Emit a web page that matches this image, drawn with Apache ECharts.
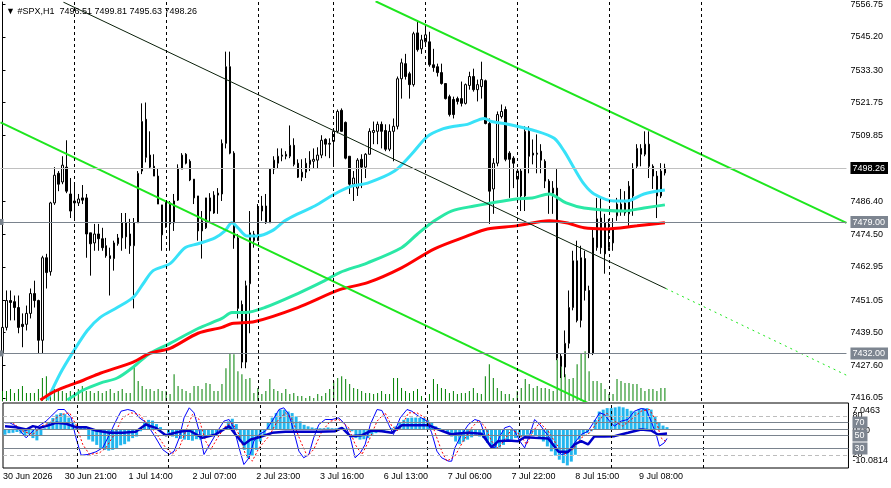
<!DOCTYPE html>
<html>
<head>
<meta charset="utf-8">
<title>#SPX,H1</title>
<script src="https://cdn.jsdelivr.net/npm/echarts@6/dist/echarts.min.js"></script>
<style>
  html, body { margin: 0; padding: 0; background: #fff; }
  #chart { width: 891px; height: 488px; }
</style>
</head>
<body>
<div id="chart"></div>
<script>
// H1 candles: [open, close, low, high]
const candles = [
  [7432.1,7441.3,7430.3,7442.0],[7441.3,7450.9,7440.2,7454.5],[7450.9,7450.2,7443.8,7454.5],[7450.5,7448.4,7443.8,7452.7],
  [7448.4,7441.3,7439.2,7452.7],[7442.4,7441.6,7434.2,7446.3],[7442.4,7446.3,7440.2,7449.1],[7446.3,7453.4,7444.5,7455.2],
  [7453.4,7450.9,7448.4,7458.0],[7450.9,7436.7,7432.1,7451.2],[7436.7,7466.2,7432.1,7466.9],[7466.2,7460.9,7455.2,7467.6],
  [7461.2,7485.8,7459.8,7486.2],[7485.8,7495.7,7485.1,7498.6],[7496.4,7492.5,7490.0,7497.2],[7493.3,7499.3,7492.5,7502.5],
  [7498.6,7490.0,7489.3,7508.2],[7489.0,7482.9,7480.4,7494.7],[7485.8,7486.5,7480.4,7492.5],[7485.8,7487.2,7484.7,7489.0],
  [7487.6,7486.8,7485.4,7492.2],[7487.6,7474.7,7466.2,7489.0],[7475.1,7471.2,7459.8,7475.1],[7471.5,7474.7,7468.7,7478.3],
  [7474.7,7473.0,7468.7,7478.3],[7473.0,7469.8,7468.7,7476.9],[7470.5,7466.9,7466.2,7473.3],[7466.9,7465.9,7452.7,7469.8],
  [7465.9,7471.5,7461.6,7472.3],[7471.2,7473.3,7470.5,7474.7],[7473.3,7478.7,7468.7,7482.2],[7478.7,7473.7,7469.4,7482.2],
  [7474.7,7470.5,7467.6,7480.1],[7470.5,7478.7,7448.1,7480.4],[7478.7,7496.4,7478.7,7497.2],[7497.2,7514.9,7496.1,7521.4],
  [7515.7,7502.1,7500.3,7521.7],[7502.9,7498.6,7498.2,7511.4],[7498.9,7495.4,7495.4,7503.2],[7495.4,7485.4,7485.4,7498.2],
  [7485.1,7474.4,7468.7,7485.1],[7477.2,7485.8,7476.9,7486.5],[7478.3,7485.8,7468.7,7486.5],[7486.5,7478.7,7475.8,7489.0],
  [7486.8,7498.2,7486.5,7499.6],[7497.9,7502.9,7497.9,7503.6],[7503.2,7500.0,7499.6,7503.6],[7500.7,7494.0,7493.6,7501.4],
  [7494.3,7487.6,7485.4,7494.3],[7488.3,7475.8,7472.3,7488.3],[7479.4,7475.8,7465.9,7482.9],[7476.9,7487.6,7476.5,7487.6],
  [7482.9,7487.6,7478.7,7489.3],[7482.2,7488.6,7481.9,7490.0],[7489.3,7488.6,7481.9,7491.1],[7489.0,7507.1,7486.5,7508.5],
  [7507.1,7534.5,7505.3,7539.9],[7534.5,7503.6,7503.2,7539.9],[7503.6,7473.3,7469.4,7504.3],[7473.3,7448.1,7444.5,7474.7],
  [7449.5,7428.9,7426.7,7450.9],[7428.9,7456.2,7426.7,7458.0],[7456.9,7475.1,7439.2,7482.9],[7472.3,7474.7,7469.8,7475.8],
  [7472.3,7483.6,7472.3,7485.4],[7482.9,7484.7,7479.4,7488.3],[7484.7,7478.7,7478.3,7489.0],[7478.7,7497.9,7478.7,7498.2],
  [7497.9,7501.1,7496.1,7502.5],[7500.0,7502.5,7498.2,7505.3],[7502.5,7502.9,7500.7,7505.3],[7502.5,7503.2,7501.4,7504.3],
  [7502.5,7506.4,7501.8,7513.5],[7506.4,7499.6,7498.9,7508.9],[7500.0,7495.0,7494.7,7501.4],[7495.0,7496.8,7493.6,7501.4],
  [7496.8,7500.0,7494.7,7501.8],[7499.6,7501.1,7497.2,7504.3],[7500.7,7501.4,7498.2,7505.3],[7501.1,7502.9,7498.2,7505.7],
  [7502.9,7508.2,7501.8,7510.0],[7508.5,7506.8,7502.5,7508.9],[7506.8,7507.1,7501.8,7508.9],[7507.8,7511.4,7499.6,7512.5],
  [7511.4,7518.5,7510.7,7519.2],[7518.9,7511.4,7511.4,7519.6],[7514.6,7501.8,7501.4,7514.9],[7502.5,7492.5,7489.0,7502.5],
  [7492.5,7494.7,7486.5,7497.2],[7491.1,7501.1,7488.3,7501.8],[7501.4,7498.6,7491.1,7503.2],[7498.6,7503.2,7494.7,7503.6],
  [7503.2,7511.4,7503.2,7512.5],[7511.0,7511.7,7506.8,7514.9],[7511.4,7513.9,7506.8,7514.9],[7513.9,7511.4,7505.3,7514.9],
  [7511.7,7505.0,7504.3,7513.9],[7505.0,7511.4,7504.3,7513.9],[7511.4,7513.2,7500.7,7516.0],[7513.2,7530.2,7512.1,7531.0],
  [7530.2,7535.9,7523.1,7537.4],[7535.6,7531.0,7529.9,7539.1],[7532.0,7528.1,7523.1,7532.7],[7528.1,7546.3,7527.4,7547.0],
  [7546.6,7540.6,7539.9,7551.2],[7540.9,7544.1,7539.1,7545.9],[7543.4,7545.9,7542.3,7549.5],[7543.4,7535.2,7534.5,7547.0],
  [7535.2,7534.2,7532.7,7540.9],[7534.5,7532.4,7531.0,7535.6],[7532.4,7528.5,7528.1,7535.6],[7528.5,7523.1,7522.8,7528.5],
  [7523.8,7517.4,7516.7,7524.5],[7522.8,7517.4,7516.0,7523.8],[7523.1,7522.1,7521.0,7523.8],[7523.1,7521.4,7520.3,7529.2],
  [7521.4,7528.1,7521.0,7528.5],[7527.8,7531.0,7526.3,7532.7],[7531.0,7526.3,7525.6,7533.8],[7526.3,7528.1,7522.1,7529.9],
  [7527.4,7529.9,7523.1,7536.3],[7529.5,7514.2,7513.9,7529.9],[7514.2,7490.0,7478.3,7516.0],[7490.8,7500.0,7481.9,7501.8],
  [7500.0,7517.4,7498.9,7518.5],[7516.7,7518.5,7516.0,7521.0],[7519.2,7501.4,7500.7,7520.3],[7503.6,7501.4,7487.6,7504.3],
  [7501.8,7500.0,7491.1,7502.5],[7494.3,7497.2,7488.3,7498.2],[7497.2,7488.3,7482.9,7498.2],[7488.3,7511.4,7482.9,7513.2],
  [7511.4,7502.5,7496.4,7513.2],[7503.6,7502.9,7499.6,7508.5],[7503.2,7503.6,7496.4,7510.3],[7504.3,7501.1,7496.4,7506.8],
  [7500.7,7493.6,7491.1,7501.4],[7493.6,7489.0,7481.9,7494.3],[7489.3,7491.1,7481.9,7493.6],[7491.1,7430.3,7429.6,7497.9],
  [7431.0,7427.4,7423.2,7432.1],[7427.1,7435.6,7423.5,7440.2],[7435.6,7448.4,7433.8,7454.5],[7448.4,7465.1,7447.4,7468.7],
  [7465.1,7443.8,7443.1,7472.3],[7443.8,7466.2,7441.3,7470.5],[7465.9,7454.5,7450.9,7468.7],[7454.5,7432.1,7430.3,7456.2],
  [7432.1,7473.3,7431.4,7476.5],[7469.8,7480.1,7468.7,7487.6],[7480.4,7469.8,7467.6,7487.6],[7478.7,7467.6,7460.5,7481.9],
  [7469.8,7471.5,7468.7,7480.1],[7471.5,7476.9,7468.7,7480.4],[7481.2,7485.4,7479.4,7487.6],[7482.9,7485.4,7481.2,7490.8],
  [7485.8,7482.2,7481.2,7490.0],[7481.9,7491.8,7477.6,7493.6],[7488.3,7498.2,7481.2,7500.0],[7498.9,7505.3,7498.2,7506.8],
  [7503.2,7505.3,7498.9,7506.8],[7503.2,7506.8,7502.5,7511.4],[7506.8,7498.9,7494.7,7511.4],[7498.9,7495.4,7490.8,7499.6],
  [7495.4,7488.3,7480.4,7497.2],[7488.3,7497.2,7487.6,7500.0],[7496.51,7498.26,7495.63,7499.81]
];

// tick volume (scaled to the main window)
const volumes = [
  10,10,12,8,12,15,8,8,8,12, 23,25,10,12,12,10,8,10,7,12, 15,10,10,8,10,8,10,12,8,10,
  12,8,8,35,20,15,12,12,10,12, 10,10,7,27,15,12,10,8,15,15, 12,18,17,10,10,17,33,48,47,30,
  27,22,23,8,13,7,10,22,12,10, 8,12,7,8,5,5,3,5,3,7, 5,8,12,20,23,25,22,17,13,12,
  10,8,8,7,8,10,7,7,23,23, 13,10,8,10,12,5,3,7,22,17, 13,12,8,10,7,8,8,10,13,8,
  7,25,37,23,13,10,7,7,3,10, 13,22,17,13,15,13,13,12,10,42, 40,27,22,23,37,48,50,30,20,20,
  18,12,7,7,22,20,18,18,17,17, 13,10,12,12,10,13,13
];

// OsMA(12,26,9) histogram
const osma = [
  -1.3,-0.9,-0.8,-0.6,-1.0,-1.6,-1.2,-2.2,-2.8,-1.4, 0.4,1.8,3.1,4.0,4.4,4.1,3.2,1.8,1.1,0.9,
  0.6,-2.6,-3.1,-4.0,-4.8,-5.3,-5.5,-5.3,-4.8,-4.1, -3.8,-3.1,-2.2,-1.8,-0.4,1.8,2.6,2.4,1.5,0.7,
  0.2,-0.9,-1.8,-2.2,-2.4,-2.6,-2.7,-2.9,-2.5,-2.6, -2.2,-1.8,-1.3,-0.9,-0.4,0.3,2.2,2.9,1.5,-3.1,
  -5.3,-7.5,-6.8,-5.3,-3.1,-1.3,1.8,3.2,4.4,5.3, 5.3,4.8,4.4,3.5,2.2,1.3,0.9,0.6,0.4,0.4,
  0.4,0.6,0.4,0.4,0.6,0.4,0.3,-0.4,-2.2,-2.6, -2.5,-2.2,-1.3,-0.9,-0.4,-0.4,-0.1,0.4,0.9,1.8,
  2.6,3.1,3.2,3.2,3.1,3.1,2.6,1.8,0.9,0.4, 0.1,-0.9,-1.8,-3.1,-3.8,-3.1,-2.6,-2.0,-1.3,-1.8,
  -2.2,-3.5,-4.4,-4.8,-4.7,-4.0,-3.1,-2.6,-2.2,-2.0, -1.8,-1.3,-1.1,-1.5,-2.2,-3.1,-4.4,-5.7,-6.8,-7.9,
  -8.8,-9.4,-8.4,-6.6,-2.6,-1.3,-0.9,-0.4,2.6,4.8, 5.3,5.7,5.7,5.9,6.1,5.9,5.5,5.0,4.8,5.5,
  5.7,5.7,5.3,3.5,2.0,1.1,0.68
];

// moving averages as [bar, price]
const maCyan = [
  [11.25,7415.3],[14.5,7424.9],[17.5,7432.1],[21.25,7440.2],[24.5,7444.9],[28.75,7448.4],[32.75,7452.0],
  [35.25,7456.9],[37.75,7461.6],[42,7464.1],[45.75,7469.8],[49,7471.2],[53.25,7473.3],[55.75,7475.8],
  [57.5,7478.7],[59,7476.9],[61.25,7474.0],[63.75,7474.0],[67.5,7475.8],[70.75,7479.4],[74,7481.9],
  [78.25,7484.7],[83.25,7489.0],[87.5,7491.8],[91.5,7492.9],[98.25,7497.2],[102.5,7503.2],[106.5,7509.6],
  [110,7512.1],[113.25,7513.2],[116.5,7513.9],[120.75,7516.0],[122.5,7514.9],[125.75,7514.2],[134,7511.4],
  [138.25,7508.9],[140.75,7504.3],[143.25,7498.2],[145.75,7492.5],[148.25,7489.0],[153.25,7486.5],
  [156.5,7486.5],[160.75,7489.0],[166,7490.4]
];
const maGreen = [
  [16.25,7415.3],[20.25,7418.9],[24.5,7421.4],[28.75,7423.2],[32.75,7427.1],[37,7432.1],[42,7435.6],
  [49,7440.9],[55,7444.5],[57.5,7446.6],[60.75,7446.6],[65.75,7448.4],[74,7453.4],[80.75,7458.0],
  [84.5,7460.9],[91.5,7464.4],[100,7469.8],[104,7474.7],[108.25,7479.4],[112.5,7482.9],[118.25,7484.7],
  [122.5,7485.8],[128.75,7487.2],[132.75,7487.6],[137,7489.0],[141.25,7485.8],[145.75,7484.0],
  [155.75,7482.9],[160.75,7484.0],[166,7485.1]
];
const maRed = [
  [9.5,7415.3],[12.75,7418.2],[16.25,7420.3],[20.25,7422.4],[24.5,7424.9],[32.75,7428.9],[37,7432.1],
  [42,7433.8],[49,7439.2],[55,7441.3],[57.5,7442.7],[63.25,7443.4],[74,7448.4],[84.5,7454.8],
  [91.5,7457.3],[100,7462.6],[108.25,7469.4],[116.5,7474.0],[121.5,7476.5],[128.75,7477.6],
  [137,7479.4],[141.25,7478.7],[145.75,7476.9],[150.75,7476.5],[159,7477.6],[166,7478.7]
];

// trend lines as [bar, price]
const trendUpper = [[93.5,7557.9],[211.5,7478.7]];
const trendLower = [[-0.5,7514.6],[150,7412.0]];
const trendMid = [[15.25,7557.6],[166.25,7455.2]];
const trendMidExt = [[166.25,7455.2],[211.5,7424.2]];

// Stochastic(5,3,3) main / signal and RSI(14) as [bar, value]
const stochMain = [
  [0,69.5],[1.2,69.5],[2.8,64.4],[5.3,46.4],[7.8,61.8],[10.3,72.1],[13.3,90.0],[14.9,90.0],[16.6,77.2],
  [17.8,46.4],[19.1,19.7],[20.8,20.8],[22.8,24.9],[24.5,31.0],[26.2,51.5],[27.8,72.1],[29.1,87.4],
  [30.8,90.0],[32.4,87.4],[33.7,77.2],[34.9,72.1],[36.2,61.8],[37.8,46.4],[39.5,28.5],[41.2,20.8],
  [42.4,25.9],[43.7,46.4],[44.9,77.2],[46.2,92.6],[47.4,84.9],[48.7,56.7],[49.9,20.8],[51.6,38.7],
  [53.3,56.7],[54.9,72.1],[56.2,74.6],[57.4,61.8],[58.7,31.0],[59.9,5.4],[61.2,15.7],[62.4,41.3],
  [63.7,51.5],[65.3,56.7],[67,72.1],[68.7,90.0],[69.9,92.6],[71.2,82.3],[72.4,56.7],[73.7,25.9],
  [74.9,15.7],[76.2,20.8],[77.4,46.4],[78.7,66.9],[80.3,74.6],[82,74.6],[83.7,77.2],[85.3,66.9],
  [86.6,46.4],[87.8,15.7],[89.1,23.3],[90.3,36.2],[91.6,66.9],[93.3,90.0],[94.5,88.5],[96.2,66.9],
  [97.4,51.5],[99.1,77.2],[100.8,90.0],[102,87.4],[103.7,79.7],[105.8,72.1],[107,54.1],[108.3,25.9],
  [109.5,15.7],[111.2,10.5],[112,10.5],[112.8,31.0],[114.5,51.5],[116.2,66.9],[117.8,74.6],[119.1,72.1],
  [120.3,51.5],[121.6,33.6],[122.8,31.0],[124.1,49.0],[125.3,61.8],[126.6,64.4],[127.8,56.7],[129.1,41.3],
  [130.3,31.0],[131.6,51.5],[132.8,74.6],[134.1,66.9],[135.3,56.7],[136.6,46.4],[138.3,28.5],[139.5,20.8],
  [141.2,23.3],[142.8,38.7],[144.5,51.5],[146.2,56.7],[147.8,72.1],[149.1,84.9],[150.3,82.3],[151.6,72.1],
  [152.8,64.4],[154.5,72.1],[156.2,74.6],[157.8,87.4],[159.5,91.5],[160.8,90.0],[162,72.1],[163.3,51.5],
  [164.1,33.6],[165.3,38.7],[166,45.4]
];
const stochSignal = [
  [2,69.5],[4.5,56.7],[7,51.5],[9.1,64.4],[11.2,69.5],[14.1,82.3],[16.2,84.9],[17.8,66.9],[19.5,36.2],
  [21.2,20.8],[23.7,23.3],[25.3,31.0],[27.4,51.5],[29.5,77.2],[31.6,84.9],[33.7,82.3],[35.8,66.9],
  [37.8,54.1],[40.3,31.0],[42,21.8],[43.7,31.0],[45.3,56.7],[47,82.3],[48.7,74.6],[50.3,41.3],[51.6,28.5],
  [53.3,46.4],[55.3,64.4],[57,69.5],[58.7,51.5],[60.3,20.8],[62,10.5],[63.7,31.0],[66.2,49.0],[68.3,72.1],
  [70.3,84.9],[72,74.6],[74.1,41.3],[75.8,18.2],[77.4,28.5],[79.5,56.7],[81.6,72.1],[83.7,74.6],[86.2,61.8],
  [87.8,36.2],[89.5,20.8],[91.2,41.3],[93.3,72.1],[95.3,84.9],[97,64.4],[98.7,56.7],[101.2,84.9],
  [103.3,84.9],[105.3,77.2],[107.4,61.8],[109.5,25.9],[110.8,10.5],[112.8,18.2],[114.9,41.3],[117,61.8],
  [118.7,73.1],[120.3,64.4],[122,41.3],[123.7,30.0],[125.3,43.9],[127,59.2],[129.1,51.5],[130.8,36.2],
  [132.4,56.7],[134.1,69.5],[136.2,56.7],[138.3,36.2],[140.3,21.8],[142.4,28.5],[144.5,46.4],[146.6,54.1],
  [148.7,72.1],[150.8,84.9],[152.8,72.1],[154.9,64.4],[157,74.6],[159.5,87.4],[161.6,90.0],[163.3,72.1],
  [164.5,46.4],[166,39.1]
];
const rsi = [
  [0,64.4],[2.8,62.8],[5.3,59.2],[7,64.4],[8.7,61.8],[10.3,64.4],[12.8,69.5],[15.3,68.0],[17.8,62.8],
  [20.3,62.8],[22.8,57.7],[26.2,54.1],[29.5,54.1],[32.8,55.7],[35.3,66.9],[37.8,61.8],[40.3,50.5],
  [43.7,55.7],[46.2,57.7],[49.5,46.4],[52.8,51.5],[56.2,64.4],[57.8,51.5],[59.9,36.2],[61.6,43.9],
  [63.7,47.4],[67,54.1],[70.3,55.7],[74.5,55.7],[78.7,55.7],[82.8,56.7],[84.5,61.8],[86.6,49.0],
  [89.5,50.5],[92,57.7],[94.5,56.7],[97,54.1],[99.5,65.9],[102.8,65.9],[106.2,65.9],[108.7,59.2],
  [112,51.5],[112.8,52.6],[116.2,54.1],[119.5,52.6],[122,32.1],[123.7,41.3],[126.2,42.3],[128.7,41.3],
  [130.3,47.4],[132.8,46.4],[136.2,45.4],[138.8,24.9],[141.2,24.9],[142.8,36.2],[144.5,41.3],[146.2,36.2],
  [147.8,49.0],[150.3,48.5],[152.8,49.0],[156.2,54.1],[159.5,59.2],[162,57.7],[163.7,51.5],[166,53.2]
];

// axis texts
const priceTicks = [7556.75,7545.20,7533.30,7521.75,7509.85,7486.40,7474.50,7462.95,7451.05,7439.50,7427.60,7416.05];
const lastPrice = 7498.26;
const levelPrices = [7479.00, 7432.00];
const timeIdx = [-0.5,15,31,47,63,79,95,111,127,143,159];
const timeLabels = ['30 Jun 2026','30 Jun 21:00','1 Jul 14:00','2 Jul 07:00','2 Jul 23:00','3 Jul 16:00',
  '6 Jul 13:00','7 Jul 06:00','7 Jul 22:00','8 Jul 15:00','9 Jul 08:00'];
const dayIdx = [18,41,64,83,106,129,152,175];
// sub-window scale texts, listed in drawing order (boxed levels last)
const oscPos = [80,20,57.7,88.5,11.5,70,50,30];
const oscText = ['80','20','0.00','7.0463','-10.0814','70','50','30'];
const oscBoxed = ['70','50','30'];

const FONT = '"Liberation Sans", Arial, sans-serif';
const N = 212;           // slots on the time axis incl. chart shift
const PMAX = 7557.64, PMIN = 7414.98;
const OMAX = 7.0463, OMIN = -10.0814;
const cats = Array.from({length: N}, (_, i) => String(i));

let myChart = echarts.init(document.getElementById('chart'));

const hiddenLine = { symbol: 'none', silent: true, animation: false, label: {show: false} };
const dashV = { type: [3, 3], color: '#000', width: 1 };
const gridLines = dayIdx.map(i => ({ xAxis: String(i), lineStyle: dashV }));
const lvlStyle = { color: '#7a838d', width: 1, type: 'solid' };

let option = {
  animation: false,
  backgroundColor: '#fff',
  title: {
    text: '▼ #SPX,H1  7496.51 7499.81 7495.63 7498.26',
    left: 1, top: 2,
    textStyle: { fontSize: 9, fontWeight: 'normal', color: '#000', fontFamily: FONT }
  },
  grid: [
    { left: 0.5, top: 0, width: 848, height: 401 },
    { left: 0.5, top: 403, width: 848, height: 65, show: true, borderColor: '#000', borderWidth: 1 }
  ],
  xAxis: [
    { type: 'category', gridIndex: 0, data: cats, show: false, position: 'bottom' },
    { type: 'value', gridIndex: 0, min: -0.5, max: N - 0.5, show: false, position: 'bottom' },
    { type: 'category', gridIndex: 1, data: cats, show: false, position: 'top' },
    {
      type: 'value', gridIndex: 1, min: -0.5, max: N - 0.5, position: 'bottom',
      splitLine: { show: false }, axisLine: { show: false }, axisTick: { show: false },
      axisLabel: {
        customValues: timeIdx, hideOverlap: false,
        formatter: v => timeLabels[timeIdx.findIndex(t => Math.abs(t - v) < 0.01)],
        align: 'left', margin: 4, fontSize: 9, color: '#000', fontFamily: FONT
      }
    }
  ],
  yAxis: [
    {
      type: 'value', gridIndex: 0, position: 'right', min: PMIN, max: PMAX,
      splitLine: { show: false },
      axisLine: { show: true, lineStyle: { color: '#000' } },
      axisTick: { show: true, length: 3, customValues: priceTicks, lineStyle: { color: '#000' } },
      axisLabel: {
        customValues: priceTicks.concat([lastPrice], levelPrices), hideOverlap: false,
        margin: 4, fontSize: 9, color: '#000', fontFamily: FONT,
        formatter: function (v) {
          if (Math.abs(v - lastPrice) < 0.001) return '{cur|' + v.toFixed(2) + '}';
          if (levelPrices.some(p => Math.abs(v - p) < 0.001)) return '{lvl|' + v.toFixed(2) + '}';
          return v.toFixed(2);
        },
        rich: {
          cur: { backgroundColor: '#000', color: '#fff', padding: [2, 3, 1, 2], fontSize: 9, fontFamily: FONT },
          lvl: { backgroundColor: '#7d8590', color: '#fff', padding: [2, 3, 1, 2], fontSize: 9, fontFamily: FONT }
        }
      }
    },
    { type: 'value', gridIndex: 0, min: 0, max: 401, show: false },
    {
      type: 'value', gridIndex: 1, position: 'right', min: 0, max: 100,
      splitLine: { show: false }, axisLine: { show: false }, axisTick: { show: false },
      axisLabel: {
        customValues: oscPos, hideOverlap: false,
        margin: 4, fontSize: 9, color: '#000', fontFamily: FONT,
        formatter: function (v) {
          const t = oscText[oscPos.findIndex(p => Math.abs(p - v) < 0.01)];
          return oscBoxed.includes(t) ? '{box|' + t + '}' : t;
        },
        rich: { box: { backgroundColor: '#7d8590', color: '#fff', padding: [2, 3, 1, 2], fontSize: 9, fontFamily: FONT } }
      }
    },
    { type: 'value', gridIndex: 1, min: OMIN, max: OMAX, show: false, position: 'left' }
  ],
  series: [
    {
      name: 'Volume', type: 'bar', xAxisIndex: 0, yAxisIndex: 1, data: volumes,
      barWidth: 1, itemStyle: { color: '#008000' }, z: 1, silent: true,
      markLine: Object.assign({ data: gridLines }, hiddenLine)
    },
    {
      name: '#SPX,H1', type: 'candlestick', xAxisIndex: 0, yAxisIndex: 0, data: candles,
      barWidth: 2, z: 2, silent: true,
      itemStyle: { color: '#fff', color0: '#000', borderColor: '#000', borderColor0: '#000', borderWidth: 1 },
      markLine: Object.assign({
        data: [
          { yAxis: lastPrice, lineStyle: { color: '#c0c0c0', width: 1, type: 'solid' } },
          { yAxis: levelPrices[0], lineStyle: lvlStyle, symbol: ['emptyRect', 'none'], symbolSize: 6 },
          { yAxis: levelPrices[1], lineStyle: lvlStyle, symbol: ['none', 'emptyRect'], symbolSize: 6 }
        ]
      }, hiddenLine, { symbol: 'none' })
    },
    { name: 'MA fast', type: 'line', xAxisIndex: 1, yAxisIndex: 0, data: maCyan, showSymbol: false, smooth: 0.3,
      lineStyle: { color: '#38e2f8', width: 3 }, z: 3, silent: true },
    { name: 'MA mid', type: 'line', xAxisIndex: 1, yAxisIndex: 0, data: maGreen, showSymbol: false, smooth: 0.3,
      lineStyle: { color: '#2ae8a6', width: 3 }, z: 3, silent: true },
    { name: 'MA slow', type: 'line', xAxisIndex: 1, yAxisIndex: 0, data: maRed, showSymbol: false, smooth: 0.3,
      lineStyle: { color: '#ff0000', width: 3 }, z: 3, silent: true },
    { name: 'Trend upper', type: 'line', xAxisIndex: 1, yAxisIndex: 0, data: trendUpper, showSymbol: false,
      lineStyle: { color: '#1ee61e', width: 2 }, z: 4, silent: true },
    { name: 'Trend lower', type: 'line', xAxisIndex: 1, yAxisIndex: 0, data: trendLower, showSymbol: false,
      lineStyle: { color: '#1ee61e', width: 2 }, z: 4, silent: true },
    { name: 'Trend mid', type: 'line', xAxisIndex: 1, yAxisIndex: 0, data: trendMid, showSymbol: false,
      lineStyle: { color: '#0a200a', width: 1 }, z: 4, silent: true },
    { name: 'Trend mid ext', type: 'line', xAxisIndex: 1, yAxisIndex: 0, data: trendMidExt, showSymbol: false,
      lineStyle: { color: '#1ee61e', width: 1, type: [2, 4] }, z: 4, silent: true },

    {
      name: 'OsMA', type: 'bar', xAxisIndex: 2, yAxisIndex: 3, data: osma,
      barWidth: 3, itemStyle: { color: '#22b6ee' }, z: 1, silent: true,
      markLine: Object.assign({
        data: gridLines.concat([{ yAxis: 0, lineStyle: lvlStyle }])
      }, hiddenLine)
    },
    {
      name: 'Stoch', type: 'line', xAxisIndex: 3, yAxisIndex: 2, data: stochMain, showSymbol: false,
      lineStyle: { color: '#0000ff', width: 1 }, z: 3, silent: true,
      markLine: Object.assign({
        data: [
          { yAxis: 80, lineStyle: { color: '#bdbdbd', width: 1, type: [4, 3] } },
          { yAxis: 70, lineStyle: lvlStyle },
          { yAxis: 50, lineStyle: lvlStyle },
          { yAxis: 30, lineStyle: lvlStyle },
          { yAxis: 20, lineStyle: { color: '#bdbdbd', width: 1, type: [4, 3] } }
        ]
      }, hiddenLine)
    },
    { name: 'Stoch signal', type: 'line', xAxisIndex: 3, yAxisIndex: 2, data: stochSignal, showSymbol: false,
      lineStyle: { color: '#ff0000', width: 1, type: [2, 2] }, z: 3, silent: true },
    { name: 'RSI', type: 'line', xAxisIndex: 3, yAxisIndex: 2, data: rsi, showSymbol: false,
      lineStyle: { color: '#0000c8', width: 2.5 }, z: 4, silent: true }
  ]
};

myChart.setOption(option);
window.addEventListener('resize', function () {
  myChart.resize();
});
</script>
</body>
</html>
